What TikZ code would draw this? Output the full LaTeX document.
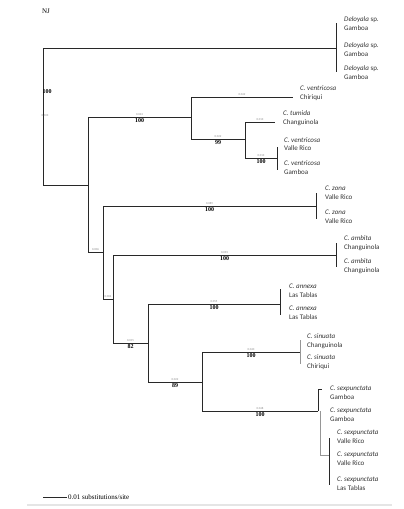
\documentclass[tikz,border=0pt]{standalone}
\usepackage{fontspec}
\setmainfont{Carlito}
\newfontfamily\njserif{Liberation Serif}
\usetikzlibrary{positioning}
\definecolor{treeline}{RGB}{40,40,40}
\definecolor{treegrey}{RGB}{150,150,150}
\tikzset{
    branch/.style={draw=treeline, line width=0.9pt},
    greybranch/.style={draw=treegrey, line width=0.9pt},
    taxon/.style={
        anchor=west, align=left, inner sep=0pt, text=black!80,
        font=\fontsize{7}{8.7}\selectfont
    },
    blen/.style={font=\fontsize{3}{3}\selectfont, text=black!45, inner sep=1pt},
    boot/.style={font=\njserif\bfseries\fontsize{6}{6}\selectfont, inner sep=0.8pt}
}

\begin{document}
\begin{tikzpicture}[x=1pt, y=-1pt]
\useasboundingbox (0,0) rectangle (404,509);
\node[font=\njserif\fontsize{7}{7}\selectfont] (title) at (46,11) {NJ};
% internal nodes
\coordinate (root) at (43,185);
\coordinate (nA) at (88,185);
\coordinate (nB) at (191,117);
\coordinate (nC) at (245,139);
\coordinate (nD) at (277,158);
\coordinate (nE) at (103,252);
\coordinate (nF) at (113,299);
\coordinate (nG) at (148,343);
\coordinate (nH) at (202,382);
\coordinate (nI) at (318,411);
\coordinate (nJ) at (320,411);
\coordinate (nK) at (329,455);
% branch ends
\coordinate (deloyala) at (336,48);
\coordinate (vchiriqui) at (293,97);
\coordinate (tumida) at (275,122);
\coordinate (zona) at (316,206);
\coordinate (ambita) at (336,255);
\coordinate (annexa) at (280,304);
\coordinate (sinuata) at (300,352);
\coordinate (sexgam) at (322,389);

\draw[branch] (root) |- (deloyala);
\draw[branch] (root) -- (nA);
\node[boot] (bsroot) at (47,92) {100};
\node[blen] (blroot) at (45,116) {0.103};
\draw[branch] (nA) |- (nB)
    node[blen, pos=0.75, above] {0.043} node[boot, pos=0.75, below] {100};
\draw[branch] (nA) |- (nE) node[blen, pos=0.75, above] {0.006};
\draw[branch] (nB) |- (vchiriqui) node[blen, pos=0.75, above] {0.042};
\draw[branch] (nB) |- (nC)
    node[blen, pos=0.75, above] {0.022} node[boot, pos=0.75, below] {99};
\draw[branch] (nC) |- (tumida) node[blen, pos=0.75, above] {0.013};
\draw[branch] (nC) |- (nD)
    node[blen, pos=0.75, above] {0.013} node[boot, pos=0.75, below] {100};
\draw[branch] (nE) |- (zona)
    node[blen, pos=0.75, above] {0.089} node[boot, pos=0.75, below] {100};
\draw[branch] (nE) |- (nF) node[blen, pos=0.75, above] {0.004};
\draw[branch] (nF) |- (ambita)
    node[blen, pos=0.75, above] {0.093} node[boot, pos=0.75, below] {100};
\draw[branch] (nF) |- (nG)
    node[blen, pos=0.75, above] {0.015} node[boot, pos=0.75, below] {82};
\draw[branch] (nG) |- (annexa)
    node[blen, pos=0.75, above] {0.055} node[boot, pos=0.75, below] {100};
\draw[branch] (nG) |- (nH)
    node[blen, pos=0.75, above] {0.022} node[boot, pos=0.75, below] {89};
\draw[branch] (nH) |- (sinuata)
    node[blen, pos=0.75, above] {0.040} node[boot, pos=0.75, below] {100};
\draw[branch] (nH) |- (nI)
    node[blen, pos=0.75, above] {0.048} node[boot, pos=0.75, below] {100};
\draw[branch] (nI) |- (sexgam);
\draw[greybranch] (nJ) |- (nK);
% bars of identical sequences
\draw[branch] (336,23) -- (336,72);
\draw[branch] (277,147) -- (277,170);
\draw[branch] (316,193) -- (316,219);
\draw[branch] (336,243) -- (336,267);
\draw[branch] (280,289) -- (280,315);
\draw[greybranch] (300,340) -- (300,364);
\draw[branch] (329,438) -- (329,485);
% taxa
\node[taxon] (del1) at (344,23.5) {\textit{Deloyala} sp.\\Gamboa};
\node[taxon] (del2) at (344,49.5) {\textit{Deloyala} sp.\\Gamboa};
\node[taxon] (del3) at (344,72.5) {\textit{Deloyala} sp.\\Gamboa};
\node[taxon] (ven1) at (300,93.5) {\textit{C. ventricosa}\\Chiriqui};
\node[taxon] (tum1) at (283,118.5) {\textit{C. tumida}\\Changuinola};
\node[taxon] (ven2) at (284,144) {\textit{C. ventricosa}\\Valle Rico};
\node[taxon] (ven3) at (284,167.5) {\textit{C. ventricosa}\\Gamboa};
\node[taxon] (zon1) at (325,192.5) {\textit{C. zona}\\Valle Rico};
\node[taxon] (zon2) at (325,216.5) {\textit{C. zona}\\Valle Rico};
\node[taxon] (amb1) at (344,243) {\textit{C. ambita}\\Changuinola};
\node[taxon] (amb2) at (344,266.5) {\textit{C. ambita}\\Changuinola};
\node[taxon] (ann1) at (289,291) {\textit{C. annexa}\\Las Tablas};
\node[taxon] (ann2) at (289,312.5) {\textit{C. annexa}\\Las Tablas};
\node[taxon] (sin1) at (307,341.5) {\textit{C. sinuata}\\Changuinola};
\node[taxon] (sin2) at (307,362.5) {\textit{C. sinuata}\\Chiriqui};
\node[taxon] (sex1) at (330,393) {\textit{C. sexpunctata}\\Gamboa};
\node[taxon] (sex2) at (330,415) {\textit{C. sexpunctata}\\Gamboa};
\node[taxon] (sex3) at (337,436.5) {\textit{C. sexpunctata}\\Valle Rico};
\node[taxon] (sex4) at (337,458.5) {\textit{C. sexpunctata}\\Valle Rico};
\node[taxon] (sex5) at (337,483.5) {\textit{C. sexpunctata}\\Las Tablas};
% scale bar
\coordinate (sbl) at (43,497);
\coordinate (sbr) at (67,497);
\draw[branch, line width=0.7pt] (sbl) -- (sbr);
\node[anchor=west, inner sep=1pt, font=\njserif\fontsize{7}{7}\selectfont]
    (sblabel) at (sbr) {0.01 substitutions/site};
\draw[gray!20, line width=2pt] (27,505) -- (392,505);
\end{tikzpicture}
\end{document}
